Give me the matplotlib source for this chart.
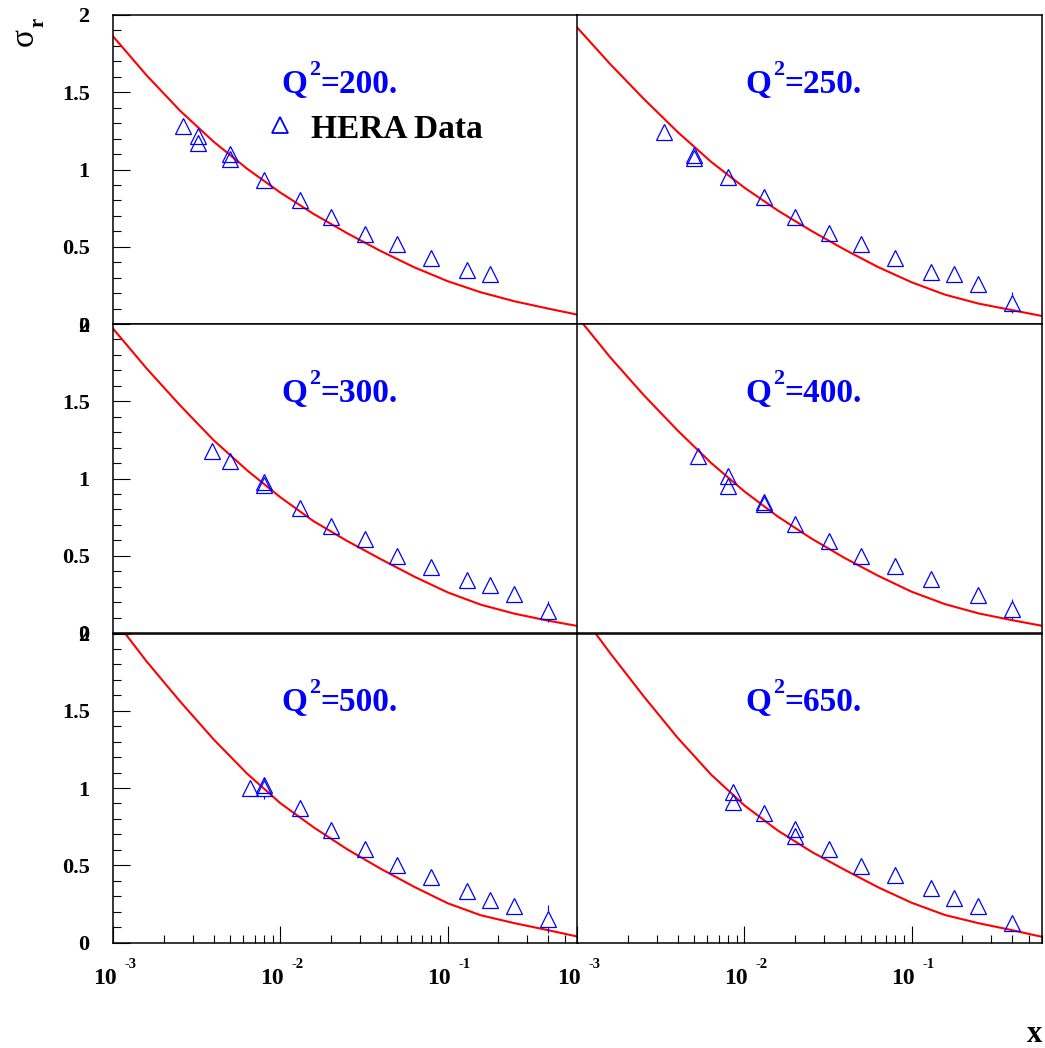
import numpy as np
import matplotlib
matplotlib.use('Agg')
import matplotlib.pyplot as plt
from matplotlib.ticker import LogLocator, MultipleLocator, NullFormatter

plt.rcParams['font.family'] = ['Liberation Serif', 'DejaVu Serif']
plt.rcParams['font.weight'] = 'bold'

# Q2 bins, in panel order (row by row)
q2_labels = ['200.', '250.', '300.', '400.', '500.', '650.']

x_curve = [0.001, 0.00158, 0.00251, 0.00398, 0.00631, 0.01, 0.0158, 0.0251,
           0.0398, 0.0631, 0.1, 0.158, 0.251, 0.398, 0.6]
curve_200 = [1.860, 1.610, 1.380, 1.180, 1.005, 0.850, 0.712, 0.587, 0.472, 0.367, 0.277, 0.205, 0.147, 0.100, 0.060]
curve_250 = [1.918, 1.680, 1.455, 1.243, 1.050, 0.882, 0.735, 0.603, 0.481, 0.368, 0.270, 0.190, 0.132, 0.090, 0.052]
curve_300 = [1.968, 1.713, 1.473, 1.248, 1.053, 0.878, 0.723, 0.595, 0.478, 0.365, 0.263, 0.183, 0.125, 0.080, 0.045]
curve_400 = [2.047, 1.782, 1.537, 1.311, 1.101, 0.916, 0.754, 0.612, 0.485, 0.370, 0.267, 0.187, 0.127, 0.083, 0.047]
curve_500 = [2.100, 1.820, 1.560, 1.315, 1.093, 0.901, 0.745, 0.603, 0.477, 0.360, 0.254, 0.176, 0.125, 0.080, 0.038]
curve_650 = [2.160, 1.870, 1.590, 1.325, 1.087, 0.887, 0.725, 0.588, 0.470, 0.357, 0.257, 0.178, 0.125, 0.080, 0.037]

# HERA data points
x_200 = [0.0026, 0.0032, 0.0032, 0.005, 0.005, 0.008, 0.013, 0.02, 0.032, 0.05, 0.08, 0.13, 0.18]
y_200 = [1.282, 1.219, 1.169, 1.100, 1.068, 0.930, 0.800, 0.693, 0.580, 0.516, 0.425, 0.350, 0.321]
e_200 = [0.03, 0.03, 0.03, 0.03, 0.03, 0.02, 0.02, 0.02, 0.02, 0.02, 0.02, 0.02, 0.02]

x_250 = [0.0033, 0.005, 0.005, 0.008, 0.013, 0.02, 0.032, 0.05, 0.08, 0.13, 0.18, 0.25, 0.4]
y_250 = [1.243, 1.092, 1.072, 0.949, 0.820, 0.695, 0.587, 0.516, 0.425, 0.334, 0.321, 0.257, 0.138]
e_250 = [0.03, 0.03, 0.03, 0.02, 0.02, 0.02, 0.02, 0.02, 0.02, 0.02, 0.02, 0.03, 0.07]

x_300 = [0.0039, 0.005, 0.008, 0.008, 0.013, 0.02, 0.032, 0.05, 0.08, 0.13, 0.18, 0.25, 0.4]
y_300 = [1.178, 1.115, 0.975, 0.960, 0.809, 0.693, 0.606, 0.496, 0.425, 0.343, 0.311, 0.252, 0.140]
e_300 = [0.03, 0.03, 0.03, 0.03, 0.02, 0.02, 0.02, 0.02, 0.02, 0.02, 0.02, 0.03, 0.07]

x_400 = [0.0053, 0.008, 0.008, 0.013, 0.013, 0.02, 0.032, 0.05, 0.08, 0.13, 0.25, 0.4]
y_400 = [1.148, 1.016, 0.951, 0.846, 0.835, 0.703, 0.598, 0.500, 0.434, 0.352, 0.246, 0.155]
e_400 = [0.03, 0.03, 0.03, 0.02, 0.02, 0.02, 0.02, 0.02, 0.02, 0.02, 0.03, 0.065]

x_500 = [0.0066, 0.008, 0.008, 0.013, 0.02, 0.032, 0.05, 0.08, 0.13, 0.18, 0.25, 0.4]
y_500 = [1.003, 1.018, 0.997, 0.872, 0.725, 0.608, 0.500, 0.425, 0.332, 0.278, 0.239, 0.151]
e_500 = [0.03, 0.03, 0.065, 0.02, 0.02, 0.02, 0.02, 0.02, 0.02, 0.03, 0.03, 0.09]

x_650 = [0.0085, 0.0085, 0.013, 0.02, 0.02, 0.032, 0.05, 0.08, 0.13, 0.18, 0.25, 0.4]
y_650 = [0.971, 0.910, 0.835, 0.734, 0.688, 0.602, 0.498, 0.434, 0.350, 0.289, 0.239, 0.129]
e_650 = [0.03, 0.03, 0.02, 0.02, 0.02, 0.02, 0.02, 0.02, 0.02, 0.03, 0.03, 0.05]

curves = [curve_200, curve_250, curve_300, curve_400, curve_500, curve_650]
xs = [x_200, x_250, x_300, x_400, x_500, x_650]
ys = [y_200, y_250, y_300, y_400, y_500, y_650]
es = [e_200, e_250, e_300, e_400, e_500, e_650]

decades = [1e-3, 1e-2, 1e-1]
dec_exp = ['-3', '-2', '-1']

W, H = 1045, 1048
fig = plt.figure(figsize=(W / 100, H / 100), dpi=100)

lefts = [113.3, 577.3]
tops = [15, 324, 633.5]
pw, ph = 464.5, 309
half_tri = 0.052  # marker half height in data units
px = 0.72  # points per pixel


def q2_label(ax, val):
    pos = (0.362, 0.748)
    kw = dict(xycoords='axes fraction', textcoords='offset points', color='blue',
              fontweight='bold', va='baseline', ha='left')
    ax.annotate('Q', xy=pos, xytext=(0, 0), fontsize=24, **kw)
    ax.annotate('2', xy=pos, xytext=(28 * px, 18 * px), fontsize=16, **kw)
    ax.annotate('=' + val, xy=pos, xytext=(38.5 * px, 0), fontsize=24, **kw)


for i in range(6):
    row, col = divmod(i, 2)
    ax = fig.add_axes([lefts[col] / W, 1 - (tops[row] + ph) / H, pw / W, ph / H])
    ax.set_xscale('log')
    ax.set_xlim(0.001, 0.6)
    ax.set_ylim(0, 2)
    for s in ax.spines.values():
        s.set_linewidth(1.1)

    ax.plot(x_curve, curves[i], color='red', lw=1.5, zorder=2)

    # error bars outside the open markers only
    for xv, yv, ev in zip(xs[i], ys[i], es[i]):
        if ev > half_tri:
            ax.vlines(xv, yv + half_tri, yv + ev, color='blue', lw=0.8)
            ax.vlines(xv, yv - ev, yv - half_tri, color='blue', lw=0.8)
    ax.plot(xs[i], ys[i], ls='none', marker='^', ms=11.5, mfc='none',
            mec='blue', mew=0.9, zorder=3)

    q2_label(ax, q2_labels[i])
    if i == 0:
        ax.plot([0.359], [0.644], transform=ax.transAxes, ls='none', marker='^',
                ms=11.5, mfc='none', mec='blue', mew=1.3, clip_on=False)
        ax.text(0.425, 0.602, 'HERA Data', transform=ax.transAxes, fontsize=24,
                fontweight='bold', va='baseline', ha='left')

    # y axis
    if col == 0:
        ax.yaxis.set_major_locator(MultipleLocator(0.5))
        ax.yaxis.set_minor_locator(MultipleLocator(0.1))
        ax.yaxis.set_major_formatter(plt.FuncFormatter(lambda v, p: '%g' % v))
        ax.tick_params(axis='y', which='major', direction='in', length=12.2,
                       width=0.8, labelsize=16, pad=17, right=False)
        ax.tick_params(axis='y', which='minor', direction='in', length=5.8,
                       width=0.8, right=False)
    else:
        ax.set_yticks([])
        ax.yaxis.set_minor_locator(plt.NullLocator())

    # x axis
    ax.xaxis.set_major_locator(LogLocator(base=10))
    ax.xaxis.set_minor_locator(LogLocator(base=10, subs=np.arange(2, 10)))
    ax.xaxis.set_major_formatter(NullFormatter())
    ax.xaxis.set_minor_formatter(NullFormatter())
    if row == 2:
        ax.tick_params(axis='x', which='major', direction='in', length=12.2,
                       width=0.8, top=False)
        ax.tick_params(axis='x', which='minor', direction='in', length=5.8,
                       width=0.8, top=False)
        for d, ex in zip(decades, dec_exp):
            ax.annotate('10', xy=(d, 0), xycoords=('data', 'axes fraction'),
                        xytext=(3 * px, -41 * px), textcoords='offset points',
                        ha='right', va='baseline', fontsize=17, fontweight='bold',
                        annotation_clip=False)
            ax.annotate(ex, xy=(d, 0), xycoords=('data', 'axes fraction'),
                        xytext=(11 * px, -25 * px), textcoords='offset points',
                        ha='left', va='baseline', fontsize=10.5, fontweight='bold',
                        annotation_clip=False)
    else:
        ax.tick_params(axis='x', which='both', bottom=False, top=False)

# y title: sigma with subscript r, rotated
fig.text(24 / W, 1 - 37.5 / H, '\u03c3', rotation=90, ha='center', va='center',
         fontsize=24, fontweight='normal')
fig.text(38 / W, 1 - 22.5 / H, 'r', rotation=90, ha='center', va='center',
         fontsize=15, fontweight='bold')
fig.text(1042 / W, 1 - 1042 / H, 'x', ha='right', va='baseline', fontsize=22,
         fontweight='bold')

fig.savefig('out.png', dpi=100)
